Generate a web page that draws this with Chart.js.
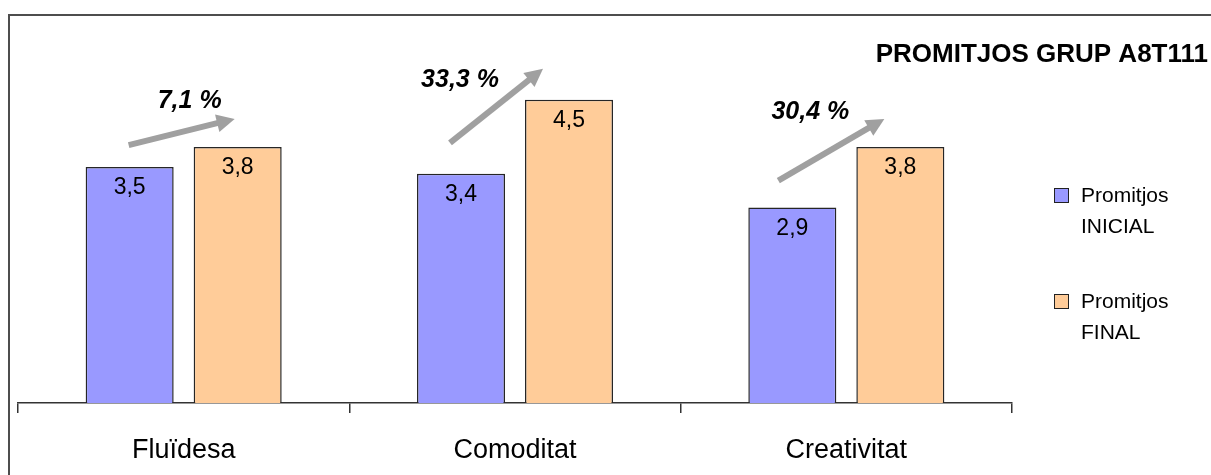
<!DOCTYPE html>
<html>
<head>
<meta charset="utf-8">
<script src="https://cdn.jsdelivr.net/npm/chart.js@4/dist/chart.umd.min.js"></script>
<style>
  html, body { margin: 0; padding: 0; background: #fff; overflow: hidden; }
  canvas { display: block; }
</style>
</head>
<body>
<canvas id="grafic" width="1211" height="475" style="width:1211px;height:475px"></canvas>
<script>
// Dades del gràfic
const categories = ['Fluïdesa', 'Comoditat', 'Creativitat'];
const promitjosInicial = [3.5, 3.4, 2.9];
const promitjosFinal = [3.8, 4.5, 3.8];
const canvis = ['7,1 %', '33,3 %', '30,4 %'];
const nomsSeries = [['Promitjos', 'INICIAL'], ['Promitjos', 'FINAL']];
const titol = 'PROMITJOS GRUP A8T111';

const FONT = "'Liberation Sans', Arial, Helvetica, sans-serif";

// Posició de les fletxes i dels percentatges respecte de les barres (px)
const anotacions = [
  { inici: [-1, -22], fi: [-3, -28], text: [-45, -18] },
  { inici: [-11, -31], fi: [-26, -31], text: [-83, 11] },
  { inici: [-14, -27], fi: [-16, -28], text: [-74, -7] }
];

const fmt = v => v.toFixed(1).replace('.', ',');

function fletxa(ctx, x0, y0, x1, y1) {
  const ang = Math.atan2(y1 - y0, x1 - x0);
  const llarg = 18, mig = 9;
  const bx = x1 - Math.cos(ang) * llarg, by = y1 - Math.sin(ang) * llarg;
  ctx.save();
  ctx.strokeStyle = '#a0a0a0';
  ctx.fillStyle = '#a0a0a0';
  ctx.lineWidth = 6;
  ctx.lineCap = 'butt';
  ctx.beginPath();
  ctx.moveTo(x0, y0);
  ctx.lineTo(bx + Math.cos(ang), by + Math.sin(ang));
  ctx.stroke();
  ctx.beginPath();
  ctx.moveTo(x1, y1);
  ctx.lineTo(bx + Math.sin(ang) * mig, by - Math.cos(ang) * mig);
  ctx.lineTo(bx - Math.sin(ang) * mig, by + Math.cos(ang) * mig);
  ctx.closePath();
  ctx.fill();
  ctx.restore();
}

const decoracio = {
  id: 'decoracio',
  beforeDraw(chart) {
    const ctx = chart.ctx;
    ctx.save();
    ctx.fillStyle = '#fff';
    ctx.fillRect(0, 0, chart.width, chart.height);
    ctx.restore();
  },
  afterDatasetsDraw(chart) {
    const ctx = chart.ctx;
    const m0 = chart.getDatasetMeta(0).data;
    const m1 = chart.getDatasetMeta(1).data;
    ctx.save();
    // valors dins de les barres
    ctx.fillStyle = '#000';
    ctx.textAlign = 'center';
    ctx.textBaseline = 'middle';
    ctx.font = `23px ${FONT}`;
    chart.data.datasets.forEach((ds, di) => {
      chart.getDatasetMeta(di).data.forEach((bar, i) => {
        ctx.fillText(fmt(ds.data[i]), bar.x, bar.y + 21);
      });
    });
    // fletxes i percentatges d'increment
    categories.forEach((c, i) => {
      const a = anotacions[i];
      const x0 = m0[i].x + a.inici[0], y0 = m0[i].y + a.inici[1];
      const x1 = m1[i].x + a.fi[0], y1 = m1[i].y + a.fi[1];
      fletxa(ctx, x0, y0, x1, y1);
      ctx.font = `italic bold 25px ${FONT}`;
      ctx.fillStyle = '#000';
      ctx.fillText(canvis[i], x1 + a.text[0], y1 + a.text[1]);
    });
    ctx.restore();
  },
  afterDraw(chart) {
    const ctx = chart.ctx;
    ctx.save();
    // marc
    ctx.strokeStyle = '#4d4d4d';
    ctx.lineWidth = 2;
    ctx.beginPath();
    ctx.moveTo(9, chart.height);
    ctx.lineTo(9, 15);
    ctx.lineTo(chart.width, 15);
    ctx.stroke();
    // títol
    ctx.fillStyle = '#000';
    ctx.font = `bold 26px ${FONT}`;
    ctx.textAlign = 'right';
    ctx.textBaseline = 'alphabetic';
    ctx.fillText(titol, 1208, 62);
    // llegenda
    ctx.font = `21px ${FONT}`;
    ctx.textAlign = 'left';
    chart.data.datasets.forEach((ds, di) => {
      const y = 188 + di * 106;
      ctx.fillStyle = ds.backgroundColor;
      ctx.fillRect(1054.5, y + 0.5, 14, 14);
      ctx.strokeStyle = '#222';
      ctx.lineWidth = 1;
      ctx.strokeRect(1054.5, y + 0.5, 14, 14);
      ctx.fillStyle = '#000';
      ds.label.forEach((linia, li) => {
        ctx.fillText(linia, 1081, y + 14 + li * 31);
      });
    });
    ctx.restore();
  }
};

new Chart(document.getElementById('grafic'), {
  type: 'bar',
  data: {
    labels: categories,
    datasets: [
      {
        label: nomsSeries[0],
        data: promitjosInicial,
        backgroundColor: '#9999ff',
        borderColor: '#262626',
        borderWidth: 1.5,
        barPercentage: 0.815,
        categoryPercentage: 0.652
      },
      {
        label: nomsSeries[1],
        data: promitjosFinal,
        backgroundColor: '#ffcc99',
        borderColor: '#262626',
        borderWidth: 1.5,
        barPercentage: 0.815,
        categoryPercentage: 0.652
      }
    ]
  },
  options: {
    responsive: false,
    animation: false,
    devicePixelRatio: 1,
    layout: { padding: { left: 18, right: 199, top: 66, bottom: 0 } },
    plugins: {
      legend: { display: false },
      title: { display: false },
      tooltip: { enabled: false }
    },
    scales: {
      x: {
        offset: true,
        grid: {
          offset: true,
          drawOnChartArea: false,
          drawTicks: true,
          tickLength: 10,
          color: '#333333',
          lineWidth: 1.5
        },
        border: { display: true, color: '#333333', width: 1.5 },
        ticks: {
          padding: 21,
          color: '#000',
          maxRotation: 0,
          autoSkip: false,
          font: { family: FONT, size: 27 }
        },
        afterFit(scale) { scale.height = 72; }
      },
      y: { display: false, min: 0, max: 5 }
    }
  },
  plugins: [decoracio]
});
</script>
</body>
</html>
